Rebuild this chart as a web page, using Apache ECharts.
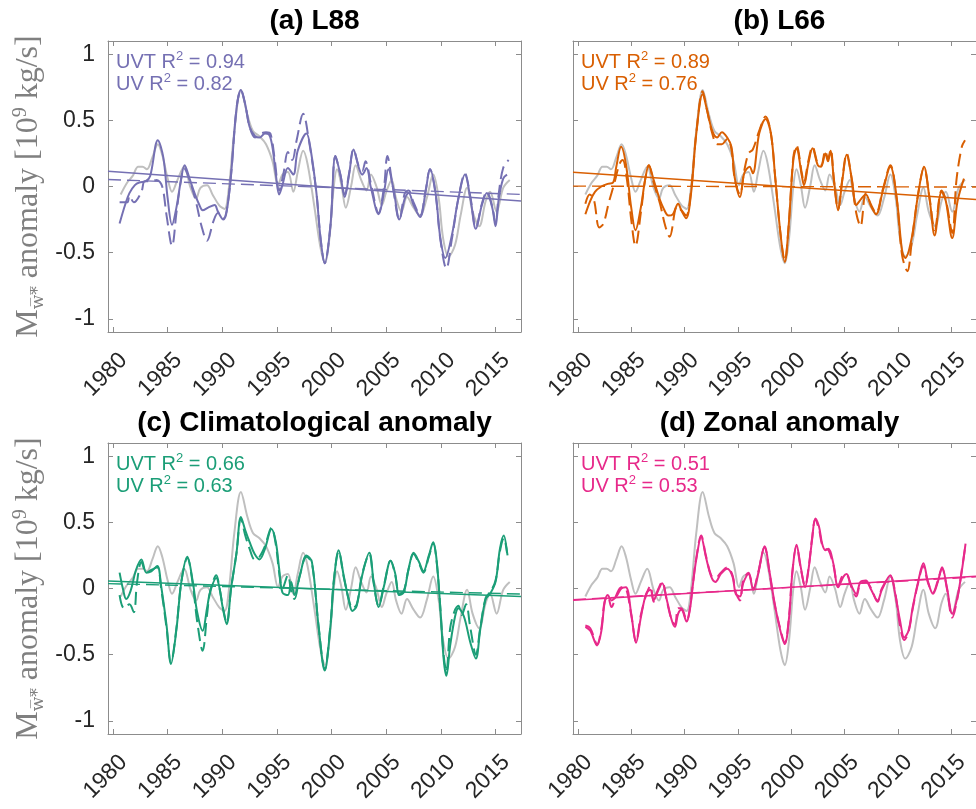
<!DOCTYPE html>
<html>
<head>
<meta charset="utf-8">
<script src="https://cdn.jsdelivr.net/npm/echarts@6/dist/echarts.min.js"></script>
<style>html,body{margin:0;padding:0;background:#fff}#c{width:976px;height:809px}</style>
</head>
<body>
<div id="c"></div>
<script>
// ---- axis ticks ----
const X_RANGE = [1979.54, 2017.33];
const Y_RANGE = [-1.1, 1.1];
const YEAR_TICKS = [1980, 1985, 1990, 1995, 2000, 2005, 2010, 2015];
const Y_TICKS = [-1, -0.5, 0, 0.5, 1];

// ---- reference (gray) series, same in all panels ----
const REF = [[1980.7,-0.06],[1981.3,0.03],[1981.8,0.08],[1982.3,0.15],[1982.7,0.15],[1983.1,0.13],[1983.6,0.22],[1984.1,0.32],[1984.5,0.24],[1985.0,0.06],[1985.4,-0.04],[1985.9,0.05],[1986.5,0.15],[1987.1,-0.01],[1987.6,-0.09],[1988.0,-0.01],[1988.6,0.01],[1989.1,-0.06],[1989.7,-0.14],[1990.2,-0.17],[1990.6,-0.01],[1991.1,0.42],[1991.7,0.73],[1992.3,0.54],[1992.8,0.42],[1993.4,0.38],[1994.0,0.32],[1994.6,0.19],[1995.1,0.01],[1995.5,0.09],[1996.0,0.11],[1996.5,-0.04],[1996.9,0.11],[1997.4,0.27],[1997.8,0.17],[1998.4,-0.14],[1999.0,-0.47],[1999.4,-0.58],[1999.8,-0.39],[2000.2,0.0],[2000.5,0.13],[2000.9,0.01],[2001.3,-0.16],[2001.8,0.01],[2002.2,0.16],[2002.7,0.05],[2003.2,-0.03],[2003.6,0.09],[2004.1,0.0],[2004.6,-0.14],[2005.0,-0.04],[2005.5,0.05],[2005.9,-0.09],[2006.4,-0.19],[2006.9,-0.08],[2007.5,-0.16],[2008.1,-0.22],[2008.7,-0.09],[2009.3,0.09],[2009.8,-0.09],[2010.2,-0.39],[2010.7,-0.53],[2011.3,-0.44],[2011.8,-0.22],[2012.4,-0.01],[2012.9,-0.19],[2013.5,-0.30],[2014.1,-0.11],[2014.5,-0.04],[2015.1,-0.19],[2015.7,-0.01],[2016.3,0.05]];

// ---- (a) L88 ----
const A_UVT = [[1980.6,-0.28],[1981.1,-0.14],[1981.5,-0.05],[1982.0,0.01],[1982.4,0.03],[1983.0,0.04],[1983.4,0.08],[1984.1,0.35],[1984.6,0.22],[1985.0,-0.09],[1985.4,-0.29],[1985.8,-0.16],[1986.2,0.04],[1986.55,0.16],[1987.0,0.06],[1987.5,-0.06],[1987.9,-0.14],[1988.2,-0.18],[1988.7,-0.16],[1989.3,-0.14],[1989.6,-0.19],[1990.1,-0.25],[1990.4,-0.19],[1990.8,0.09],[1991.3,0.59],[1991.7,0.73],[1992.1,0.62],[1992.5,0.45],[1993.0,0.38],[1993.4,0.37],[1993.9,0.40],[1994.3,0.39],[1994.6,0.29],[1994.9,0.09],[1995.2,-0.06],[1995.5,0.01],[1996.0,0.14],[1996.5,0.09],[1996.9,0.27],[1997.7,0.40],[1998.1,0.27],[1998.6,-0.04],[1999.0,-0.40],[1999.37,-0.58],[1999.9,-0.29],[2000.35,0.23],[2000.8,0.09],[2001.2,-0.08],[2001.6,0.09],[2002.0,0.28],[2002.5,0.14],[2002.8,0.09],[2003.2,0.14],[2003.6,-0.01],[2004.3,-0.21],[2004.8,-0.04],[2005.2,0.13],[2005.7,-0.04],[2006.2,-0.25],[2006.7,-0.09],[2007.05,-0.05],[2007.5,-0.14],[2008.1,-0.23],[2008.6,-0.04],[2009.0,0.13],[2009.5,-0.04],[2009.95,-0.39],[2010.4,-0.54],[2011.0,-0.37],[2011.6,-0.09],[2012.2,0.09],[2012.7,-0.09],[2013.2,-0.32],[2013.75,-0.14],[2014.2,-0.05],[2014.7,-0.16],[2015.0,-0.30],[2015.3,-0.09],[2015.7,0.06],[2016.05,0.09]];
const A_UV = [[1980.6,-0.12],[1981.3,-0.12],[1981.5,-0.07],[1981.9,-0.12],[1982.6,-0.04],[1982.9,0.04],[1983.5,0.04],[1984.0,0.05],[1984.5,0.0],[1984.9,-0.22],[1985.4,-0.45],[1985.8,-0.2],[1986.2,0.04],[1986.5,0.14],[1987.0,0.05],[1987.6,-0.12],[1988.1,-0.3],[1988.6,-0.41],[1989.2,-0.26],[1989.6,-0.2],[1990.1,-0.24],[1990.4,-0.18],[1990.8,0.09],[1991.3,0.59],[1991.7,0.73],[1992.1,0.62],[1992.5,0.45],[1993.0,0.37],[1993.5,0.40],[1994.0,0.41],[1994.4,0.40],[1994.8,0.2],[1995.2,-0.03],[1995.6,0.1],[1996.0,0.26],[1996.4,0.2],[1996.8,0.35],[1997.4,0.55],[1997.9,0.36],[1998.6,-0.04],[1999.0,-0.40],[1999.37,-0.58],[1999.9,-0.29],[2000.35,0.23],[2000.8,0.09],[2001.2,-0.06],[2001.6,0.1],[2002.0,0.28],[2002.5,0.15],[2002.8,0.12],[2003.1,0.19],[2003.6,0.02],[2004.3,-0.2],[2004.8,0.0],[2005.1,0.23],[2005.6,0.0],[2006.2,-0.25],[2006.7,-0.05],[2007.05,-0.03],[2007.5,-0.12],[2008.1,-0.22],[2008.6,-0.03],[2009.0,0.13],[2009.5,-0.05],[2009.95,-0.40],[2010.5,-0.62],[2011.0,-0.40],[2011.6,-0.09],[2012.2,0.10],[2012.7,-0.08],[2013.2,-0.31],[2013.75,-0.13],[2014.2,-0.04],[2014.7,-0.15],[2015.0,-0.28],[2015.3,-0.05],[2015.7,0.14],[2016.2,0.2]];
const A_TREND_UVT = [0.115, -0.11];
const A_TREND_UV = [0.053, -0.06];

// ---- (b) L66 ----
const B_UVT = [[1980.7,-0.21],[1981.15,-0.11],[1981.6,-0.04],[1982.2,0.0],[1982.8,0.02],[1983.3,0.03],[1983.6,0.15],[1984.05,0.30],[1984.5,0.17],[1985.0,-0.16],[1985.4,-0.33],[1985.9,-0.16],[1986.3,0.05],[1986.65,0.16],[1987.1,0.05],[1987.6,-0.08],[1988.0,-0.16],[1988.5,-0.22],[1988.9,-0.21],[1989.4,-0.13],[1989.7,-0.18],[1990.15,-0.24],[1990.6,-0.06],[1991.1,0.40],[1991.7,0.70],[1992.1,0.58],[1992.6,0.42],[1993.05,0.37],[1993.5,0.41],[1994.0,0.37],[1994.4,0.30],[1994.7,0.07],[1995.2,-0.08],[1995.6,0.10],[1996.1,0.15],[1996.4,0.10],[1997.0,0.40],[1997.6,0.51],[1998.1,0.40],[1998.5,0.07],[1999.0,-0.36],[1999.4,-0.57],[1999.75,-0.31],[2000.2,0.20],[2000.5,0.29],[2001.0,0.08],[2001.2,0.01],[2001.6,0.17],[2002.0,0.29],[2002.5,0.16],[2002.8,0.15],[2003.2,0.25],[2003.45,0.19],[2003.7,0.27],[2004.0,0.05],[2004.4,-0.18],[2004.8,0.05],[2005.2,0.24],[2005.7,0.05],[2006.1,-0.14],[2006.6,-0.09],[2007.0,-0.06],[2007.5,-0.15],[2007.96,-0.21],[2008.6,-0.03],[2009.3,0.15],[2009.9,-0.09],[2010.4,-0.49],[2010.7,-0.54],[2011.3,-0.39],[2011.9,-0.06],[2012.45,0.15],[2013.0,-0.11],[2013.45,-0.37],[2014.1,-0.04],[2014.5,-0.11],[2015.1,-0.39],[2015.6,-0.11],[2016.2,0.06]];
const B_UV = [[1980.7,-0.13],[1981.1,-0.06],[1981.5,-0.1],[1982.0,-0.31],[1982.4,-0.28],[1982.9,-0.12],[1983.4,0.02],[1983.9,0.17],[1984.2,0.2],[1984.6,0.05],[1985.0,-0.25],[1985.4,-0.45],[1985.9,-0.2],[1986.3,0.05],[1986.65,0.16],[1987.1,0.03],[1987.7,-0.13],[1988.2,-0.3],[1988.6,-0.38],[1989.3,-0.15],[1989.7,-0.18],[1990.15,-0.22],[1990.6,-0.04],[1991.1,0.40],[1991.7,0.72],[1992.1,0.58],[1992.6,0.40],[1993.05,0.32],[1993.5,0.32],[1994.0,0.36],[1994.4,0.28],[1994.7,0.06],[1995.2,-0.06],[1995.6,0.12],[1996.0,0.25],[1996.4,0.28],[1997.0,0.42],[1997.6,0.53],[1998.1,0.40],[1998.5,0.07],[1999.0,-0.36],[1999.4,-0.56],[1999.75,-0.31],[2000.2,0.22],[2000.5,0.31],[2001.0,0.1],[2001.2,0.03],[2001.6,0.19],[2002.0,0.3],[2002.5,0.17],[2002.8,0.16],[2003.2,0.27],[2003.45,0.21],[2003.7,0.28],[2004.0,0.06],[2004.4,-0.17],[2004.8,0.06],[2005.2,0.25],[2005.7,0.04],[2006.1,-0.2],[2006.5,-0.3],[2007.0,-0.05],[2007.5,-0.14],[2007.96,-0.2],[2008.6,-0.02],[2009.3,0.16],[2009.9,-0.1],[2010.4,-0.52],[2010.9,-0.64],[2011.3,-0.42],[2011.9,-0.06],[2012.45,0.14],[2013.0,-0.1],[2013.45,-0.33],[2014.1,-0.03],[2014.5,-0.1],[2015.1,-0.35],[2015.5,0.05],[2016.0,0.30],[2016.3,0.35]];
const B_TREND_UVT = [0.108, -0.098];
const B_TREND_UV = [0.003, -0.004];

// ---- (c) Climatological anomaly ----
const C_UVT = [[1980.6,0.12],[1980.9,0.0],[1981.2,-0.08],[1981.6,-0.02],[1982.1,0.14],[1982.6,0.22],[1983.05,0.12],[1983.5,0.13],[1984.05,0.17],[1984.4,0.02],[1984.9,-0.28],[1985.3,-0.57],[1985.8,-0.31],[1986.25,0.05],[1986.8,0.24],[1987.3,0.05],[1987.7,-0.18],[1988.2,-0.32],[1988.6,-0.15],[1988.9,-0.02],[1989.45,0.08],[1989.75,0.0],[1990.05,-0.15],[1990.4,-0.27],[1990.8,0.0],[1991.3,0.27],[1991.7,0.54],[1992.1,0.44],[1992.5,0.35],[1992.96,0.26],[1993.4,0.22],[1993.9,0.30],[1994.5,0.45],[1994.9,0.35],[1995.2,0.15],[1995.5,-0.03],[1996.0,-0.05],[1996.3,0.05],[1996.6,-0.05],[1997.1,0.10],[1997.7,0.25],[1998.2,0.2],[1998.8,-0.28],[1999.37,-0.62],[1999.9,-0.28],[2000.2,0.05],[2000.65,0.29],[2001.1,0.10],[2001.6,-0.10],[2001.9,-0.17],[2002.3,-0.13],[2002.8,0.10],[2003.45,0.27],[2003.85,0.05],[2004.3,-0.14],[2004.8,0.02],[2005.4,0.21],[2005.8,0.12],[2006.2,-0.05],[2006.6,-0.03],[2007.05,0.15],[2007.5,0.27],[2008.0,0.20],[2008.4,0.13],[2008.9,0.25],[2009.3,0.35],[2009.6,0.22],[2009.95,-0.15],[2010.25,-0.53],[2010.5,-0.66],[2010.85,-0.43],[2011.3,-0.21],[2011.6,-0.15],[2012.1,-0.21],[2012.7,-0.41],[2013.2,-0.53],[2013.6,-0.31],[2014.1,-0.08],[2014.5,-0.04],[2015.0,0.05],[2015.4,0.30],[2015.75,0.40],[2016.05,0.27]];
const C_UV = [[1980.6,-0.05],[1981.0,-0.15],[1981.5,-0.12],[1981.9,-0.18],[1982.2,0.05],[1982.6,0.2],[1983.05,0.12],[1983.5,0.14],[1984.05,0.16],[1984.4,0.0],[1984.9,-0.3],[1985.3,-0.56],[1985.8,-0.3],[1986.25,0.05],[1986.8,0.23],[1987.3,0.03],[1987.7,-0.25],[1988.2,-0.47],[1988.6,-0.2],[1988.9,-0.02],[1989.45,0.1],[1989.75,0.0],[1990.05,-0.14],[1990.4,-0.26],[1990.8,0.0],[1991.3,0.27],[1991.7,0.53],[1992.1,0.40],[1992.5,0.30],[1992.96,0.22],[1993.4,0.24],[1993.9,0.32],[1994.5,0.46],[1994.9,0.33],[1995.2,0.12],[1995.5,0.0],[1996.0,0.1],[1996.3,-0.02],[1996.6,-0.08],[1997.1,0.10],[1997.7,0.24],[1998.2,0.19],[1998.8,-0.28],[1999.37,-0.61],[1999.9,-0.27],[2000.2,0.06],[2000.65,0.28],[2001.1,0.09],[2001.6,-0.09],[2001.9,-0.15],[2002.3,-0.12],[2002.8,0.11],[2003.45,0.26],[2003.85,0.04],[2004.3,-0.13],[2004.8,0.03],[2005.4,0.21],[2005.8,0.11],[2006.2,-0.04],[2006.6,-0.02],[2007.05,0.15],[2007.5,0.26],[2008.0,0.19],[2008.4,0.12],[2008.9,0.24],[2009.3,0.34],[2009.6,0.21],[2009.95,-0.15],[2010.25,-0.5],[2010.5,-0.63],[2010.85,-0.3],[2011.3,-0.16],[2011.6,-0.13],[2011.9,-0.2],[2012.3,-0.12],[2012.7,-0.3],[2013.2,-0.5],[2013.6,-0.3],[2014.1,-0.07],[2014.5,-0.03],[2015.0,0.06],[2015.4,0.28],[2015.75,0.38],[2016.1,0.25]];
const C_TREND_UVT = [0.057, -0.06];
const C_TREND_UV = [0.037, -0.042];

// ---- (d) Zonal anomaly ----
const D_UVT = [[1980.7,-0.29],[1981.16,-0.32],[1981.8,-0.43],[1982.2,-0.32],[1982.5,-0.11],[1982.8,-0.05],[1983.15,-0.09],[1983.6,-0.06],[1984.07,0.0],[1984.5,0.01],[1985.0,-0.19],[1985.45,-0.41],[1985.9,-0.22],[1986.4,-0.04],[1986.8,-0.01],[1987.1,-0.09],[1987.4,-0.04],[1987.9,0.04],[1988.35,-0.09],[1988.8,-0.24],[1989.1,-0.29],[1989.4,-0.19],[1989.7,-0.16],[1990.2,-0.25],[1990.5,-0.16],[1990.8,0.04],[1991.1,0.22],[1991.56,0.39],[1992.0,0.24],[1992.5,0.09],[1992.9,0.05],[1993.4,0.11],[1994.0,0.15],[1994.5,0.09],[1994.8,-0.04],[1995.2,-0.06],[1995.5,0.04],[1996.0,0.11],[1996.45,-0.01],[1996.9,0.11],[1997.5,0.32],[1998.0,0.11],[1998.4,-0.09],[1998.9,-0.29],[1999.4,-0.42],[1999.8,-0.22],[2000.1,0.11],[2000.5,0.33],[2000.9,0.16],[2001.3,0.01],[2001.65,0.16],[2001.96,0.37],[2002.26,0.53],[2002.6,0.47],[2002.9,0.34],[2003.2,0.29],[2003.5,0.30],[2003.95,0.19],[2004.4,0.01],[2004.9,0.09],[2005.2,0.11],[2005.6,0.03],[2006.1,-0.04],[2006.5,0.05],[2007.0,0.06],[2007.5,-0.01],[2008.1,-0.09],[2008.5,-0.01],[2009.3,0.10],[2009.75,-0.04],[2010.2,-0.24],[2010.6,-0.37],[2011.0,-0.32],[2011.4,-0.14],[2011.9,0.05],[2012.4,0.19],[2012.8,0.06],[2013.3,-0.04],[2013.75,0.05],[2014.15,0.16],[2014.6,0.01],[2015.1,-0.19],[2015.6,-0.06],[2016.05,0.16],[2016.35,0.34]];
const D_UV = [[1980.7,-0.28],[1981.16,-0.3],[1981.8,-0.42],[1982.2,-0.3],[1982.5,-0.1],[1982.8,-0.06],[1983.15,-0.14],[1983.6,-0.05],[1984.07,0.01],[1984.5,0.0],[1985.0,-0.2],[1985.45,-0.4],[1985.9,-0.2],[1986.4,-0.05],[1986.8,0.02],[1987.1,-0.1],[1987.4,-0.03],[1987.9,0.05],[1988.35,-0.1],[1988.8,-0.24],[1989.1,-0.27],[1989.4,-0.15],[1989.7,-0.15],[1990.2,-0.24],[1990.5,-0.15],[1990.8,0.05],[1991.1,0.23],[1991.56,0.40],[1992.0,0.25],[1992.5,0.1],[1992.9,0.08],[1993.4,0.12],[1994.0,0.16],[1994.5,0.1],[1994.8,-0.03],[1995.2,-0.09],[1995.5,0.06],[1996.0,0.12],[1996.45,0.0],[1996.9,0.12],[1997.5,0.31],[1998.0,0.1],[1998.4,-0.1],[1998.9,-0.28],[1999.4,-0.41],[1999.8,-0.21],[2000.1,0.12],[2000.5,0.32],[2000.9,0.15],[2001.3,0.02],[2001.65,0.17],[2001.96,0.38],[2002.26,0.52],[2002.6,0.45],[2002.9,0.33],[2003.2,0.3],[2003.5,0.29],[2003.95,0.18],[2004.4,0.02],[2004.9,0.1],[2005.2,0.1],[2005.6,0.02],[2006.1,-0.06],[2006.5,0.04],[2007.0,0.05],[2007.5,0.0],[2008.1,-0.1],[2008.5,0.0],[2009.3,0.09],[2009.75,-0.03],[2010.2,-0.28],[2010.6,-0.39],[2011.0,-0.33],[2011.4,-0.15],[2011.9,0.04],[2012.4,0.17],[2012.8,0.05],[2013.3,-0.03],[2013.75,0.06],[2014.15,0.15],[2014.6,0.0],[2015.1,-0.22],[2015.6,-0.07],[2016.05,0.17],[2016.35,0.33]];
const D_TREND_UVT = [-0.089, 0.093];
const D_TREND_UV = [-0.085, 0.088];

const TITLES = ['(a) L88', '(b) L66', '(c) Climatological anomaly', '(d) Zonal anomaly'];
const R2_UVT = ['0.94', '0.89', '0.66', '0.51'];
const R2_UV = ['0.82', '0.76', '0.63', '0.53'];

// ---- layout / style ----
const COLORS = ['#7570b3', '#d95f02', '#1b9e77', '#e7298a'];
const GRAY = '#bfbfbf';
const AX = '#8c8c8c';
const TXT = '#262626';
const BOX = [
  {left: 108, top: 41}, {left: 573, top: 41},
  {left: 108, top: 443}, {left: 573, top: 443}
];
const GW = 413, GH = 291;
const DATA = [
  [A_UVT, A_UV, A_TREND_UVT, A_TREND_UV],
  [B_UVT, B_UV, B_TREND_UVT, B_TREND_UV],
  [C_UVT, C_UV, C_TREND_UVT, C_TREND_UV],
  [D_UVT, D_UV, D_TREND_UVT, D_TREND_UV]
];
const DASH = [13, 6];
const SANS = "'Liberation Sans', Arial, Helvetica, sans-serif";
const SERIF = "'Liberation Serif', serif";

const grids = [], xAxes = [], yAxes = [], series = [], graphics = [];
BOX.forEach((b, i) => {
  grids.push({left: b.left, top: b.top, width: GW, height: GH, containLabel: false});
  const lineStyle = {color: AX, width: 1};
  xAxes.push({
    type: 'value', gridIndex: i, min: X_RANGE[0], max: X_RANGE[1], position: 'bottom',
    axisLine: {show: true, onZero: false, lineStyle},
    axisTick: {show: true, inside: true, length: 5, customValues: YEAR_TICKS, lineStyle},
    axisLabel: {show: true, customValues: YEAR_TICKS, rotate: 45, margin: 14,
      formatter: v => String(Math.round(v)),
      align: 'right', verticalAlign: 'top', lineHeight: 30,
      fontSize: 23, color: TXT, fontFamily: SANS},
    splitLine: {show: false}
  });
  xAxes.push({
    type: 'value', gridIndex: i, min: X_RANGE[0], max: X_RANGE[1], position: 'top',
    axisLine: {show: true, onZero: false, lineStyle},
    axisTick: {show: true, inside: true, length: 5, customValues: YEAR_TICKS, lineStyle},
    axisLabel: {show: false}, splitLine: {show: false}
  });
  const showY = (i % 2 === 0);
  yAxes.push({
    type: 'value', gridIndex: i, min: Y_RANGE[0], max: Y_RANGE[1], position: 'left',
    axisLine: {show: true, onZero: false, lineStyle},
    axisTick: {show: true, inside: true, length: 5, customValues: Y_TICKS, lineStyle},
    axisLabel: {show: showY, customValues: Y_TICKS, margin: 13, fontSize: 23, color: TXT, fontFamily: SANS},
    splitLine: {show: false}
  });
  yAxes.push({
    type: 'value', gridIndex: i, min: Y_RANGE[0], max: Y_RANGE[1], position: 'right',
    axisLine: {show: true, onZero: false, lineStyle},
    axisTick: {show: true, inside: true, length: 5, customValues: Y_TICKS, lineStyle},
    axisLabel: {show: false}, splitLine: {show: false}
  });
  const xi = i * 2, yi = i * 2;
  const base = {type: 'line', xAxisIndex: xi, yAxisIndex: yi, showSymbol: false, symbol: 'none',
    silent: true, animation: false};
  const [uvt, uv, tUVT, tUV] = DATA[i];
  const col = COLORS[i];
  series.push(Object.assign({}, base, {data: REF, smooth: 0.35, z: 1,
    lineStyle: {color: GRAY, width: 2}}));
  series.push(Object.assign({}, base, {data: uv, smooth: 0.35, z: 2,
    lineStyle: {color: col, width: 2, type: DASH}}));
  series.push(Object.assign({}, base, {data: uvt, smooth: 0.35, z: 3,
    lineStyle: {color: col, width: 2}}));
  series.push(Object.assign({}, base, {data: [[X_RANGE[0], tUVT[0]], [X_RANGE[1], tUVT[1]]], z: 4,
    lineStyle: {color: col, width: 1.4}}));
  series.push(Object.assign({}, base, {data: [[X_RANGE[0], tUV[0]], [X_RANGE[1], tUV[1]]], z: 4,
    lineStyle: {color: col, width: 1.4, type: DASH}}));

  // title
  graphics.push({type: 'text', x: b.left + GW / 2, y: b.top - 20, silent: true,
    style: {text: TITLES[i], fill: '#000', font: "bold 28px " + SANS, textAlign: 'center', textVerticalAlign: 'middle'}});
  // R^2 annotations
  const rich = {
    a: {fontSize: 20, fontFamily: SANS, fill: col, color: col, lineHeight: 24},
    s: {fontSize: 13, fontFamily: SANS, fill: col, color: col, lineHeight: 9, verticalAlign: 'top'}
  };
  graphics.push({type: 'text', x: b.left + 8, y: b.top + 9, silent: true,
    style: {text: '{a|UVT R}{s|2}{a| = ' + R2_UVT[i] + '}', rich, textAlign: 'left', textVerticalAlign: 'top', fill: col}});
  graphics.push({type: 'text', x: b.left + 8, y: b.top + 31, silent: true,
    style: {text: '{a|UV R}{s|2}{a| = ' + R2_UV[i] + '}', rich, textAlign: 'left', textVerticalAlign: 'top', fill: col}});
  // y-axis label on left panels
  if (showY) {
    const lab = '#808080';
    graphics.push({type: 'text', x: 29, y: b.top + GH / 2, rotation: Math.PI / 2, silent: true,
      style: {
        text: '{m|M}{s|w\u0305*\u0305}{t| anomaly [10}{p|9}{t| kg/s]}',
        textAlign: 'center', textVerticalAlign: 'middle', fill: lab,
        rich: {
          m: {fontSize: 32, fontFamily: SERIF, fill: lab, color: lab, lineHeight: 36},
          t: {fontSize: 32, fontFamily: SERIF, fill: lab, color: lab, lineHeight: 36},
          s: {fontSize: 17, fontFamily: "'DejaVu Serif', serif", fill: lab, color: lab, lineHeight: 16, verticalAlign: 'bottom'},
          p: {fontSize: 20, fontFamily: SERIF, fill: lab, color: lab, lineHeight: 20, verticalAlign: 'top'}
        }
      }});
  }
});

const chart = echarts.init(document.getElementById('c'), null, {renderer: 'canvas'});
chart.setOption({
  animation: false,
  backgroundColor: '#ffffff',
  grid: grids, xAxis: xAxes, yAxis: yAxes, series,
  graphic: graphics
});
</script>
</body>
</html>
